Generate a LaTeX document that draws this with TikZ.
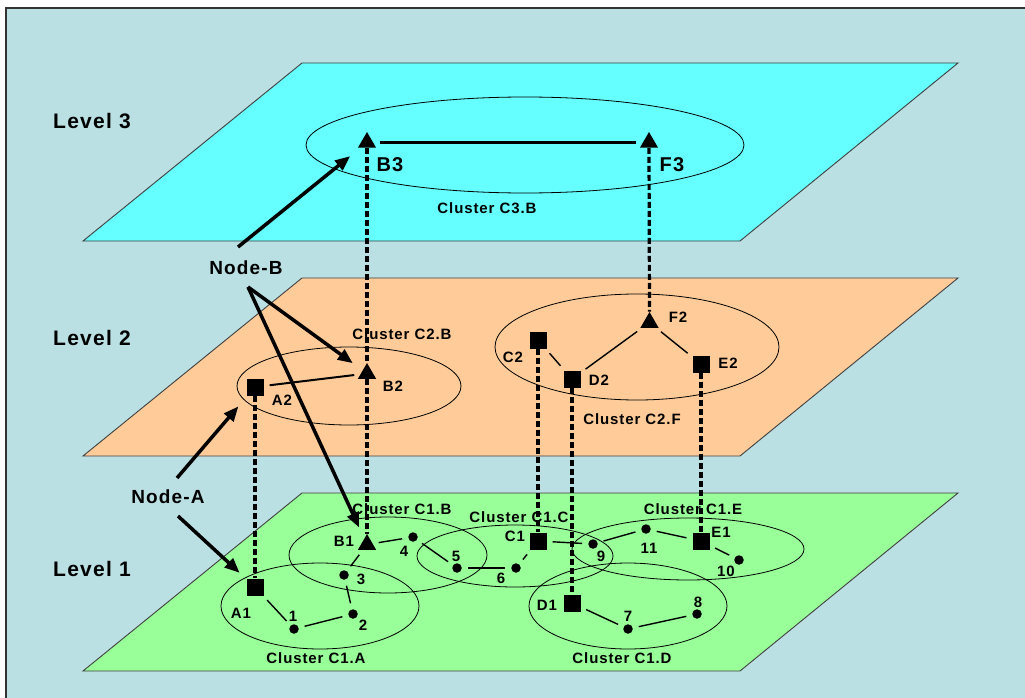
\documentclass[tikz,border=0pt]{standalone}
\usepackage{fontspec}
\setmainfont{Liberation Sans}[LetterSpace=6]
\usepackage{tikz}
\usetikzlibrary{arrows.meta, shapes.geometric}

\definecolor{backblue}{HTML}{BBE0E3}
\definecolor{planecyan}{HTML}{66FFFF}
\definecolor{planepeach}{HTML}{FFCC99}
\definecolor{planegreen}{HTML}{99FF99}

\newcommand\smalltxt{\bfseries\fontsize{15}{18}\selectfont}
\newcommand\bigtxt{\bfseries\fontsize{20}{24}\selectfont}

\tikzset{
  plane/.style={draw=black!75, line width=0.9pt},
  cluster/.style={draw=black, line width=0.8pt},
  sqnode/.style={rectangle, fill=black, minimum size=17pt, inner sep=0pt},
  trinode/.style={regular polygon, regular polygon sides=3, fill=black,
                  minimum size=21pt, inner sep=0pt},
  hostdot/.style={circle, fill=black, minimum size=9.5pt, inner sep=0pt},
  lbl/.style={font=\smalltxt, inner sep=0pt},
  biglbl/.style={font=\bigtxt, inner sep=0pt},
  levellbl/.style={font=\bfseries\fontsize{21}{25}\selectfont, inner sep=0pt},
  link/.style={line width=1.4pt, shorten <=6pt, shorten >=6pt},
  uplink/.style={line width=3.2pt, dash pattern=on 6pt off 3pt},
  pointer/.style={line width=3.5pt, -{Triangle[length=15pt,width=12pt]}},
}

\begin{document}
\begin{tikzpicture}[x=1pt,y=-1pt]
  \useasboundingbox (0,0) rectangle (1025,698);
  % backdrop
  \fill[backblue] (6,8) rectangle (1025,698);
  \draw[black!80,line width=1.5pt] (6,698) -- (6,8) -- (1025,8);
  % the three planes
  \foreach \ty/\col in {63/planecyan,278/planepeach,493/planegreen}
    \filldraw[plane,fill=\col] (302,\ty) -- (958,\ty) -- (740,\ty+178)
      -- (83,\ty+178) -- cycle;
  \node[levellbl] (lev3) at (92,121) {Level 3};
  \node[levellbl] (lev2) at (92,338) {Level 2};
  \node[levellbl] (lev1) at (92,569) {Level 1};

  % clusters
  \draw[cluster] (525,145) ellipse [x radius=219, y radius=48];
  \draw[cluster] (349,386) ellipse [x radius=112, y radius=39];
  \draw[cluster] (637,347) ellipse [x radius=142, y radius=53];
  \draw[cluster] (320,606) ellipse [x radius=99, y radius=43];
  \draw[cluster] (388,555) ellipse [x radius=99, y radius=38];
  \draw[cluster] (515,556) ellipse [x radius=98, y radius=31];
  \draw[cluster] (628,606) ellipse [x radius=99, y radius=43];
  \draw[cluster] (688,549) ellipse [x radius=116, y radius=31];
  \node[lbl] (c3b) at (487,208) {Cluster C3.B};
  \node[lbl] (c2b) at (402,334) {Cluster C2.B};
  \node[lbl] (c2f) at (632,419) {Cluster C2.F};
  \node[lbl] (c1a) at (316,658) {Cluster C1.A};
  \node[lbl] (c1b) at (402,509) {Cluster C1.B};
  \node[lbl] (c1c) at (519,517) {Cluster C1.C};
  \node[lbl] (c1d) at (622,658) {Cluster C1.D};
  \node[lbl] (c1e) at (693,509) {Cluster C1.E};

  % level 3
  \node[trinode] (B3) at (367,142.5) {};
  \node[trinode] (F3) at (649,142.5) {};
  \node[biglbl] at (390,165) {B3};
  \node[biglbl] at (672,165) {F3};
  % level 2
  \node[sqnode] (A2) at (255,387) {};
  \node[trinode] (B2) at (367,373.5) {};
  \node[sqnode] (C2) at (538,340) {};
  \node[sqnode] (D2) at (572,379) {};
  \node[sqnode] (E2) at (701,364) {};
  \node[trinode] (F2) at (649.5,322.5) {};
  \node[lbl] at (282,400) {A2};
  \node[lbl] at (393,386) {B2};
  \node[lbl] at (513,357) {C2};
  \node[lbl] at (599,380) {D2};
  \node[lbl] at (728,363) {E2};
  \node[lbl] at (678,317) {F2};
  % level 1
  \node[sqnode] (A1) at (255,587) {};
  \node[trinode] (B1) at (367,544.5) {};
  \node[sqnode] (C1) at (538,541) {};
  \node[sqnode] (D1) at (572,603) {};
  \node[sqnode] (E1) at (701,541) {};
  \node[lbl] at (241,613) {A1};
  \node[lbl] at (344,541) {B1};
  \node[lbl] at (515,536) {C1};
  \node[lbl] at (547,605) {D1};
  \node[lbl] at (721,532) {E1};
  \foreach \n/\px/\py/\lx/\ly in {1/294/629/293/616, 2/353/614/363/625,
      3/344/575/361/579, 4/413/537/404/551, 5/457/568/456/556,
      6/516/568/501/578, 7/628/629/628/616, 8/697/614/698/602,
      9/593/544/601/556, 10/739/560/726/571, 11/646/529/649/548}
  {
    \node[hostdot] (h\n) at (\px,\py) {};
    \node[lbl] at (\lx,\ly) {\n};
  }

  % links inside the clusters
  \draw[line width=3pt, shorten <=7pt, shorten >=7pt] (B3) -- (F3);
  \draw[link, line width=2pt] (A2) -- (B2);
  \draw[link] (C2) -- (D2);
  \draw[link] (D2) -- (F2);
  \draw[link] (F2) -- (E2);
  \foreach \a/\b in {A1/h1, h1/h2, h2/h3, h3/B1, B1/h4, h4/h5, h5/h6,
      h6/C1, C1/h9, h9/h11, h11/E1, E1/h10, D1/h7, h7/h8}
    \draw[link] (\a) -- (\b);

  % same host on the level below
  \draw[uplink] (B3.south) -- (B2.north);
  \draw[uplink] (F3.south) -- (F2.north);
  \draw[uplink] (A2.south) -- (A1.north);
  \draw[uplink] (B2.south) -- (B1.north);
  \draw[uplink] (C2.south) -- (C1.north);
  \draw[uplink] (D2.south) -- (D1.north);
  \draw[uplink] (E2.south) -- (E1.north);

  % Node-A / Node-B callouts
  \node[biglbl, font=\bfseries\fontsize{19}{22}\selectfont] (nodeB) at (246,268) {Node-B};
  \node[biglbl, font=\bfseries\fontsize{19}{22}\selectfont] (nodeA) at (168,497) {Node-A};
  \coordinate (nbup) at (238,247);
  \coordinate (nbdown) at (248,287);
  \coordinate (naup) at (177,478);
  \coordinate (nadown) at (178,516);
  \draw[pointer, shorten >=13pt] (nbup) -- (B3);
  \draw[pointer, shorten >=12pt] (nbdown) -- (B2);
  \draw[pointer, shorten >=12pt] (nbdown) -- (B1);
  \draw[pointer, shorten >=14pt] (naup) -- (A2);
  \draw[pointer, shorten >=9pt] (nadown) -- (A1);
\end{tikzpicture}
\end{document}
